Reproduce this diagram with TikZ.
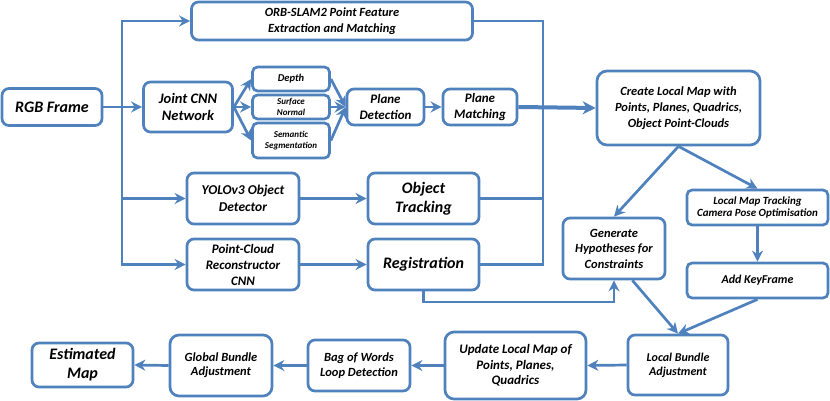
\documentclass[tikz,border=0pt]{standalone}
\usepackage{fontspec}
\setmainfont{Carlito}
\usetikzlibrary{arrows.meta}
\definecolor{bl}{HTML}{4F81BD}
\newcommand\fsz[2]{\fontsize{#1}{#2}\selectfont}
\begin{document}
\begin{tikzpicture}[x=1pt,y=-1pt,
 box/.style={draw=bl, line width=2.7pt, rounded corners=7pt, fill=white, align=center, inner sep=1pt},
 sbox/.style={box, rounded corners=5pt},
 arr/.style={draw=bl, line width=2.7pt, -{Stealth[length=11pt,width=11pt,inset=3.5pt]}},
 tarr/.style={draw=bl, line width=4pt, -{Stealth[length=13pt,width=13pt,inset=4pt]}},
 ln/.style={draw=bl, line width=2.7pt}]
\useasboundingbox (0,0) rectangle (830,401);
% nodes
\node[box, minimum width=100pt, minimum height=37pt, font=\bfseries\itshape\fsz{16}{18}] (rgb) at (52,107) {RGB Frame};
\node[box, minimum width=281pt, minimum height=38pt, font=\bfseries\itshape\fsz{12.5}{16}] (orb) at (332,21) {ORB-SLAM2 Point Feature\\Extraction and Matching};
\node[box, minimum width=89pt, minimum height=50pt, font=\bfseries\itshape\fsz{14.5}{16.5}] (cnn) at (188,107) {Joint CNN\\Network};
\node[sbox, minimum width=77pt, minimum height=24pt, font=\bfseries\itshape\fsz{10.5}{11}] (depth) at (291,79) {Depth};
\node[sbox, minimum width=77pt, minimum height=24pt, font=\bfseries\itshape\fsz{9}{11.5}] (surf) at (291,107) {Surface\\Normal};
\node[sbox, minimum width=77pt, minimum height=35pt, font=\bfseries\itshape\fsz{9}{11.5}] (sem) at (291,140.5) {Semantic\\Segmentation};
\node[box, minimum width=77pt, minimum height=36pt, font=\bfseries\itshape\fsz{13}{16.3}] (pdet) at (385.5,107) {Plane\\Detection};
\node[box, minimum width=74pt, minimum height=36pt, font=\bfseries\itshape\fsz{13}{16.3}] (pmat) at (480,107) {Plane\\Matching};
\node[box, minimum width=163pt, minimum height=74pt, rounded corners=10pt, font=\bfseries\itshape\fsz{12.5}{16}] (clm) at (678.5,108) {Create Local Map with\\Points, Planes, Quadrics,\\Object Point-Clouds};
\node[sbox, minimum width=141pt, minimum height=35pt, font=\bfseries\itshape\fsz{11}{12}] (lmt) at (757.5,207.5) {Local Map Tracking\\Camera Pose Optimisation};
\node[sbox, minimum width=141pt, minimum height=35pt, font=\bfseries\itshape\fsz{12}{14}] (akf) at (757.5,280.5) {Add KeyFrame};
\node[box, minimum width=102pt, minimum height=61pt, font=\bfseries\itshape\fsz{12.5}{15.5}] (gen) at (614,248.5) {Generate\\Hypotheses for\\Constraints};
\node[box, minimum width=112pt, minimum height=51pt, font=\bfseries\itshape\fsz{13.5}{17}] (yolo) at (243,198.5) {YOLOv3 Object\\Detector};
\node[box, minimum width=111pt, minimum height=51pt, font=\bfseries\itshape\fsz{16}{18.5}] (trk) at (423.5,198.5) {Object\\Tracking};
\node[box, minimum width=112pt, minimum height=51pt, font=\bfseries\itshape\fsz{13}{16}] (pcr) at (243,264.5) {Point-Cloud\\Reconstructor\\CNN};
\node[box, minimum width=111pt, minimum height=51pt, font=\bfseries\itshape\fsz{16}{18}] (reg) at (423.5,264.5) {Registration};
\node[box, minimum width=100pt, minimum height=60pt, font=\bfseries\itshape\fsz{12}{14.3}] (lba) at (678,365) {Local Bundle\\Adjustment};
\node[box, minimum width=141pt, minimum height=67pt, rounded corners=9pt, font=\bfseries\itshape\fsz{13}{15.5}] (upd) at (515.5,365.5) {Update Local Map of\\Points, Planes,\\Quadrics};
\node[box, minimum width=102pt, minimum height=51pt, font=\bfseries\itshape\fsz{12.5}{14.7}] (bow) at (359,365.5) {Bag of Words\\Loop Detection};
\node[box, minimum width=102pt, minimum height=61pt, rounded corners=9pt, font=\bfseries\itshape\fsz{12.5}{14}] (gba) at (221,365.5) {Global Bundle\\Adjustment};
\node[box, minimum width=101pt, minimum height=44pt, font=\bfseries\itshape\fsz{16}{19}] (est) at (82.5,365) {Estimated\\Map};
% left bus
\coordinate (bus) at (122,107);
\draw[arr] (rgb.east) -- (cnn.west);
\draw[arr] (bus) |- (orb.west);
\draw[arr] (bus) |- (yolo.west);
\draw[arr] (bus) |- (pcr.west);
% CNN fan
\draw[arr] (cnn.east) -- (depth.west);
\draw[arr] (cnn.east) -- (surf.west);
\draw[arr] (cnn.east) -- (sem.west);
\draw[arr] (depth.east) -- (pdet.west);
\draw[arr] (surf.east) -- (pdet.west);
\draw[arr] (sem.east) -- (pdet.west);
\draw[arr] (pdet.east) -- (pmat.west);
% right bus
\coordinate (rbus) at (543,264.5);
\draw[ln] (orb.east) -| (rbus) -- (reg.east);
\draw[ln] (trk.east) -- (trk.east -| rbus);
\draw[tarr] (pmat.east) -- (clm.west);
% detector / pcr
\draw[arr] (yolo.east) -- (trk.west);
\draw[arr] (pcr.east) -- (reg.west);
% registration to generate
\coordinate (rg) at (423.5,302);
\draw[arr] (reg.south) -- (rg) -| (gen.south);
% create local map
\draw[arr] (clm.south) -- (gen.north);
\draw[arr] (clm.south) -- (lmt.north);
\draw[arr] (lmt.south) -- (akf.north);
\draw[arr] (gen.300) -- (lba.north);
\draw[arr] (akf.south) -- (lba.north);
% bottom row
\draw[arr] (lba.west) -- (upd.east);
\draw[arr] (upd.west) -- (bow.east);
\draw[arr] (bow.west) -- (gba.east);
\draw[arr] (gba.west) -- (est.east);
\end{tikzpicture}
\end{document}
